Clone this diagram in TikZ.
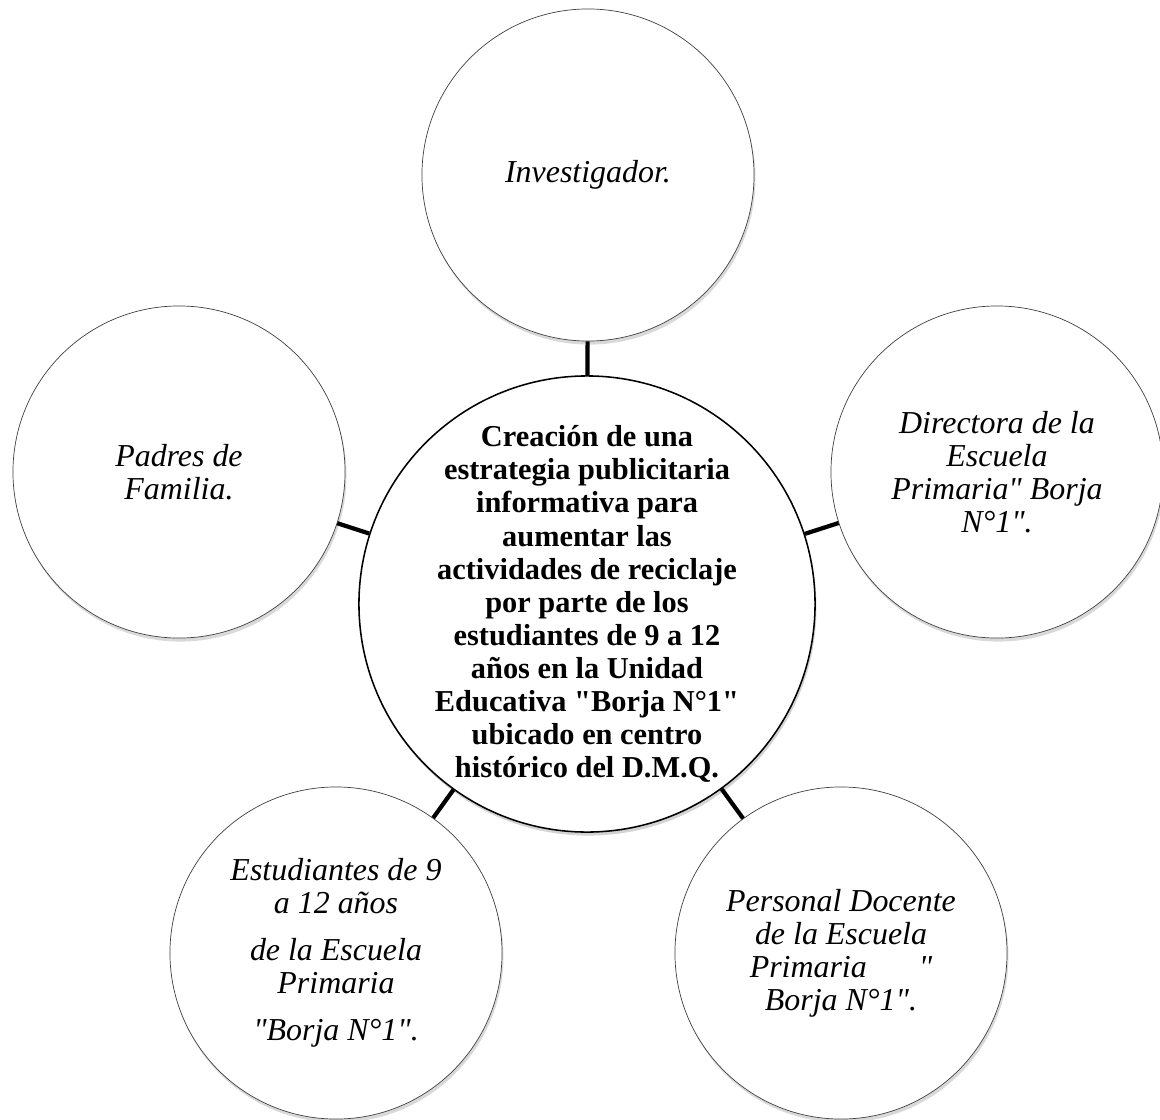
\documentclass[tikz,border=0pt]{standalone}
\usepackage{fontspec}
\setmainfont{Liberation Serif}[Ligatures=TeXOff]
\usetikzlibrary{shadows,positioning}

\begin{document}
\begin{tikzpicture}
[x=0.025cm,y=-0.025cm,
hub/.style={shape=circle,draw=black,line width=1.1pt,fill=white,minimum size=11.4cm,inner sep=-30pt,align=center,
  font=\fontsize{21.6}{23.5}\selectfont\bfseries,
  drop shadow={opacity=.35,shadow xshift=1pt,shadow yshift=-2.5pt}},
actor/.style={shape=circle,draw=black!75,line width=.5pt,fill=white,minimum size=8.3cm,inner sep=0pt,align=center,
  font=\fontsize{22.7}{23.5}\selectfont\itshape,
  drop shadow={opacity=.3,shadow xshift=1pt,shadow yshift=-2.5pt}},
link/.style={line width=3pt}]

\useasboundingbox (0,0) rectangle (1160,1120);

% central topic
\node[hub] (topic) at (587,604) {Creación de una\\ estrategia publicitaria\\ informativa para\\ aumentar las\\
actividades de reciclaje\\ por parte de los\\ estudiantes de 9 a 12\\ años en la Unidad\\
Educativa "Borja N°1"\\ ubicado en centro\\ histórico del D.M.Q.};

% stakeholders
\node[actor] (investigador) at (588,175) {Investigador.};
\node[actor] (padres) at (179,472) {Padres de\\ Familia.};
\node[actor] (directora) at (997,472) {Directora de la\\ Escuela\\ Primaria" Borja\\ N°1".};
\node[actor] (estudiantes) at (336,953) {Estudiantes de 9\\ a 12 años\\[.35cm] de la Escuela\\ Primaria\\[.35cm] "Borja N°1".};
\node[actor] (docentes) at (841,953) {Personal Docente\\ de la Escuela\\ Primaria\hspace{1.3cm}"\\ Borja N°1".};

% links
\foreach \n in {investigador,padres,directora,estudiantes,docentes}
\draw[link] (topic) -- (\n);
\end{tikzpicture}
\end{document}
